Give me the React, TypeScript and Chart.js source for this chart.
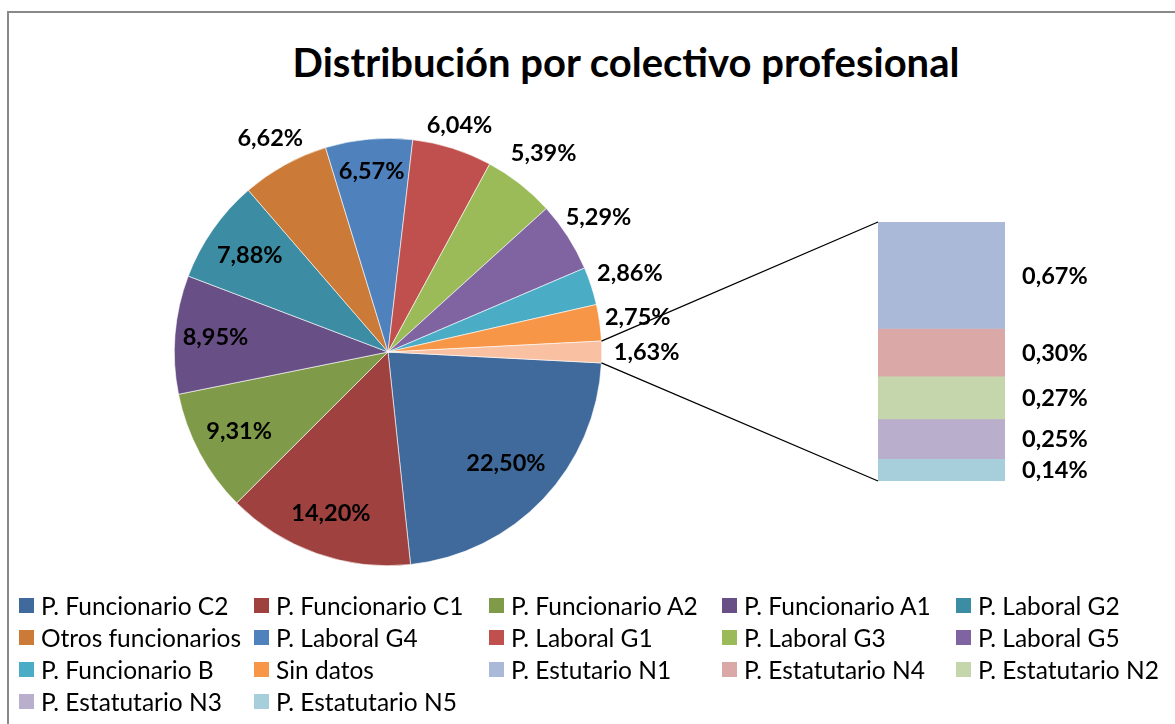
import React, { useEffect, useRef } from 'react';
import { Chart, registerables } from 'chart.js';

Chart.register(...registerables);

const chartTitle = 'Distribución por colectivo profesional';

// Main pie (last slice is the aggregate shown as the bar on the right)
const pieLabels = [
  'P. Funcionario C2',
  'P. Funcionario C1',
  'P. Funcionario A2',
  'P. Funcionario A1',
  'P. Laboral G2',
  'Otros funcionarios',
  'P. Laboral G4',
  'P. Laboral G1',
  'P. Laboral G3',
  'P. Laboral G5',
  'P. Funcionario B',
  'Sin datos',
  'Otros',
];
const pieValues = [22.5, 14.2, 9.31, 8.95, 7.88, 6.62, 6.57, 6.04, 5.39, 5.29, 2.86, 2.75, 1.63];
const pieColors = [
  '#416A9C',
  '#9E413F',
  '#7F9A48',
  '#684F86',
  '#3C8CA3',
  '#CB7B37',
  '#4F81BD',
  '#C0504D',
  '#9BBB59',
  '#8064A2',
  '#4BACC6',
  '#F79646',
  '#F9C0A1',
];
// distance of each data label from the centre, as a fraction of the radius
const pieLabelRadius = [0.76, 0.8, 0.79, 0.81, 0.79, 1.14, 0.85, 1.11, 1.18, 1.17, 1.19, 1.18, 1.21];

// Stacked bar (breakdown of the aggregate slice), top to bottom
const barLabels = [
  'P. Estutario N1',
  'P. Estatutario N4',
  'P. Estatutario N2',
  'P. Estatutario N3',
  'P. Estatutario N5',
];
const barValues = [0.67, 0.3, 0.27, 0.25, 0.14];
const barColors = ['#A9B9D7', '#D9A8A7', '#C6D6AC', '#B9AECB', '#A7CEDB'];

// Legend (row by row)
const legendLabels = [
  'P. Funcionario C2',
  'P. Funcionario C1',
  'P. Funcionario A2',
  'P. Funcionario A1',
  'P. Laboral G2',
  'Otros funcionarios',
  'P. Laboral G4',
  'P. Laboral G1',
  'P. Laboral G3',
  'P. Laboral G5',
  'P. Funcionario B',
  'Sin datos',
  'P. Estutario N1',
  'P. Estatutario N4',
  'P. Estatutario N2',
  'P. Estatutario N3',
  'P. Estatutario N5',
];
const legendColors = [...pieColors.slice(0, 12), ...barColors];

const W = 1175;
const H = 724;
const FONT = 'Lato, "Open Sans", sans-serif';
const LABEL_FONT = `bold 23.5px ${FONT}`;

const fmt = (v: number) => v.toFixed(2).replace('.', ',') + '%';

export default function App() {
  const pieRef = useRef<HTMLCanvasElement | null>(null);
  const barRef = useRef<HTMLCanvasElement | null>(null);

  useEffect(() => {
    if (!pieRef.current || !barRef.current) return;

    const pieLabelPlugin = {
      id: 'pieLabels',
      afterDatasetsDraw(chart: any) {
        const ctx = chart.ctx;
        const meta = chart.getDatasetMeta(0);
        ctx.save();
        ctx.font = LABEL_FONT;
        ctx.fillStyle = '#000';
        ctx.textAlign = 'center';
        ctx.textBaseline = 'middle';
        meta.data.forEach((arc: any, i: number) => {
          const p = arc.getProps(['x', 'y', 'startAngle', 'endAngle', 'outerRadius'], true);
          const mid = (p.startAngle + p.endAngle) / 2;
          const r = p.outerRadius * pieLabelRadius[i];
          ctx.fillText(fmt(pieValues[i]), p.x + Math.cos(mid) * r, p.y + Math.sin(mid) * r);
        });
        ctx.restore();
      },
    };

    const aggHalf = (pieValues[pieValues.length - 1] * 3.6) / 2;

    const pie = new Chart(pieRef.current, {
      type: 'pie',
      data: {
        labels: pieLabels,
        datasets: [
          {
            data: pieValues,
            backgroundColor: pieColors,
            borderColor: '#ffffff',
            borderWidth: 0.6,
          },
        ],
      },
      options: {
        animation: false,
        responsive: false,
        rotation: 90 + aggHalf,
        layout: { padding: { left: 174, right: W - 602, top: 138, bottom: H - 566 } },
        plugins: { legend: { display: false }, tooltip: { enabled: false }, title: { display: false } },
      },
      plugins: [pieLabelPlugin],
    });

    const barPlugin = {
      id: 'barExtras',
      afterDatasetsDraw(chart: any) {
        const ctx = chart.ctx;
        ctx.save();
        // values next to each segment
        ctx.font = LABEL_FONT;
        ctx.fillStyle = '#000';
        ctx.textAlign = 'left';
        ctx.textBaseline = 'middle';
        let left = Infinity;
        let top = Infinity;
        let bottom = -Infinity;
        barValues.forEach((v, i) => {
          const el: any = chart.getDatasetMeta(i).data[0];
          const y0 = Math.min(el.y, el.base);
          const y1 = Math.max(el.y, el.base);
          left = Math.min(left, el.x - el.width / 2);
          top = Math.min(top, y0);
          bottom = Math.max(bottom, y1);
          ctx.fillText(fmt(v), el.x + el.width / 2 + 17, (y0 + y1) / 2 + 1);
        });
        // connector lines from the aggregate slice
        const arc: any = pie.getDatasetMeta(0).data[pieValues.length - 1];
        const p = arc.getProps(['x', 'y', 'startAngle', 'endAngle', 'outerRadius'], true);
        ctx.strokeStyle = '#000';
        ctx.lineWidth = 1.3;
        ctx.beginPath();
        ctx.moveTo(p.x + Math.cos(p.startAngle) * p.outerRadius, p.y + Math.sin(p.startAngle) * p.outerRadius);
        ctx.lineTo(left, top);
        ctx.moveTo(p.x + Math.cos(p.endAngle) * p.outerRadius, p.y + Math.sin(p.endAngle) * p.outerRadius);
        ctx.lineTo(left, bottom);
        ctx.stroke();
        ctx.restore();
      },
    };

    const total = barValues.reduce((a, b) => a + b, 0);

    const bar = new Chart(barRef.current, {
      type: 'bar',
      data: {
        labels: [''],
        datasets: barLabels.map((l, i) => ({
          label: l,
          data: [barValues[i]],
          backgroundColor: barColors[i],
          borderWidth: 0,
          barPercentage: 1,
          categoryPercentage: 1,
        })),
      },
      options: {
        animation: false,
        responsive: false,
        layout: { padding: { left: 878, right: W - 1005, top: 222, bottom: H - 481 } },
        scales: {
          x: { display: false, stacked: true },
          y: { display: false, stacked: true, reverse: true, min: 0, max: total },
        },
        plugins: { legend: { display: false }, tooltip: { enabled: false } },
      },
      plugins: [barPlugin],
    });

    return () => {
      bar.destroy();
      pie.destroy();
    };
  }, []);

  const colLefts = [19, 254, 489, 722, 956];
  const rowTops = [605, 637, 669, 701];

  return (
    <div
      style={{
        position: 'fixed',
        left: 0,
        top: 0,
        width: W,
        height: H,
        background: '#fff',
        overflow: 'hidden',
        fontFamily: FONT,
      }}
    >
      <div
        style={{
          position: 'absolute',
          left: 7,
          top: 11,
          width: 1300,
          height: 900,
          border: '2px solid #898989',
          boxSizing: 'border-box',
        }}
      />
      <div
        style={{
          position: 'absolute',
          left: 0,
          top: 39,
          width: 1252,
          textAlign: 'center',
          fontWeight: 700,
          fontSize: 40,
          lineHeight: '46px',
          color: '#000',
        }}
      >
        {chartTitle}
      </div>
      <canvas ref={pieRef} width={W} height={H} style={{ position: 'absolute', left: 0, top: 0 }} />
      <canvas
        ref={barRef}
        width={W}
        height={H}
        style={{ position: 'absolute', left: 0, top: 0, pointerEvents: 'none' }}
      />
      {legendLabels.map((label, i) => {
        const r = Math.floor(i / 5);
        const c = i % 5;
        return (
          <div
            key={label + i}
            style={{
              position: 'absolute',
              left: colLefts[c],
              top: rowTops[r] - 15,
              height: 30,
              display: 'flex',
              alignItems: 'center',
              whiteSpace: 'nowrap',
              fontSize: 24.5,
              color: '#000',
            }}
          >
            <span
              style={{
                display: 'inline-block',
                width: 15,
                height: 15,
                background: legendColors[i],
                marginRight: 7,
              }}
            />
            <span>{label}</span>
          </div>
        );
      })}
    </div>
  );
}
